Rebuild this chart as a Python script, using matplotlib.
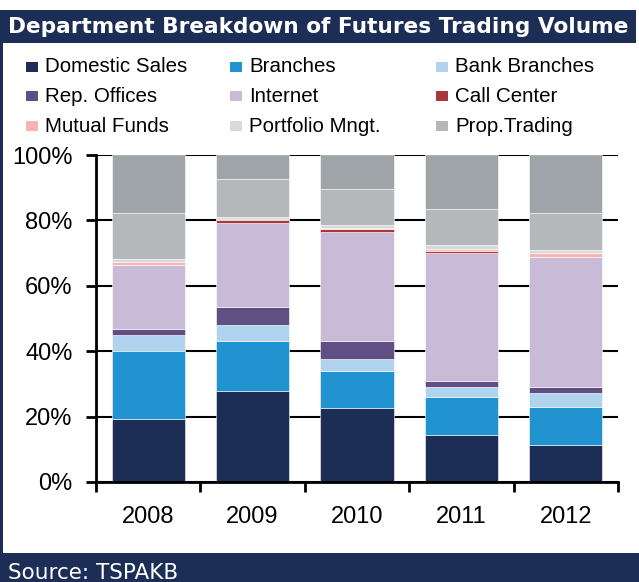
import matplotlib
matplotlib.use("Agg")
import matplotlib.pyplot as plt
from matplotlib.patches import Rectangle
import numpy as np

years = ["2008", "2009", "2010", "2011", "2012"]

# shares in %, bottom to top
domestic_sales = [19.4, 27.8, 22.5, 14.4, 11.4]
branches       = [20.7, 15.3, 11.4, 11.6, 11.6]
bank_branches  = [4.9, 4.9, 3.8, 3.2, 4.3]
rep_offices    = [1.9, 5.4, 5.4, 1.8, 1.9]
internet       = [19.4, 25.8, 33.5, 38.9, 39.5]
call_center    = [0.2, 0.8, 0.7, 0.6, 0.1]
mutual_funds   = [0.8, 0.5, 0.5, 0.7, 1.1]
portfolio_mngt = [1.0, 0.5, 0.9, 1.4, 0.9]
prop_trading   = [14.1, 11.7, 10.9, 10.9, 11.6]
other          = [17.6, 7.3, 10.4, 16.5, 17.6]

series = [
    ("Domestic Sales", domestic_sales, "#1c2d56"),
    ("Branches", branches, "#2093d0"),
    ("Bank Branches", bank_branches, "#b0d3ef"),
    ("Rep. Offices", rep_offices, "#5f4f82"),
    ("Internet", internet, "#c9bbd7"),
    ("Call Center", call_center, "#a8373c"),
    ("Mutual Funds", mutual_funds, "#f9b3b3"),
    ("Portfolio Mngt.", portfolio_mngt, "#d9d9d9"),
    ("Prop.Trading", prop_trading, "#b4b8bb"),
    (None, other, "#9ea4a7"),
]

navy = "#1c2d56"
W, H = 639, 582
fig = plt.figure(figsize=(W / 100, H / 100), dpi=100)

# frame: title band, left border, footer band
fig.add_artist(Rectangle((0, 1 - 43 / H), 636 / W, 33 / H, transform=fig.transFigure,
                         facecolor=navy, edgecolor="none"))
fig.add_artist(Rectangle((0, 0), 3 / W, 1 - 10 / H, transform=fig.transFigure,
                         facecolor=navy, edgecolor="none"))
fig.add_artist(Rectangle((0, 0), 1, 29 / H, transform=fig.transFigure,
                         facecolor=navy, edgecolor="none"))
fig.text(8 / W, 1 - 27 / H, "Department Breakdown of Futures Trading Volume",
         color="white", fontsize=15.6, fontweight="bold", family="DejaVu Sans",
         va="center", ha="left")
fig.text(8 / W, 3 / H, "Source: TSPAKB", color="white", fontsize=15.5,
         family="DejaVu Sans", va="baseline", ha="left")

ax = fig.add_axes([96 / W, 1 - 482 / H, 522 / W, 327 / H])
x = np.arange(len(years))
bottom = np.zeros(len(years))
for label, vals, color in series:
    ax.bar(x, vals, width=0.7, bottom=bottom, color=color, edgecolor="white",
           linewidth=0.4, label=label, zorder=2)
    bottom += np.array(vals)

ax.set_xlim(-0.5, 4.5)
ax.set_ylim(0, 100)
ax.set_yticks(np.arange(0, 101, 20))
ax.set_yticklabels([f"{v}%" for v in range(0, 101, 20)])
ax.set_xticks(x)
ax.set_xticklabels(years)
ax.set_xticks(np.arange(-0.5, 5, 1), minor=True)
ax.tick_params(axis="x", which="major", length=0, pad=17)
ax.tick_params(axis="x", which="minor", length=7, width=2, direction="out")
ax.tick_params(axis="y", length=7, width=2, direction="out", pad=10)
for lab in ax.get_xticklabels() + ax.get_yticklabels():
    lab.set_family("Liberation Sans")
    lab.set_fontsize(17)
ax.grid(axis="y", color="black", linewidth=1.5, zorder=1)
ax.set_axisbelow(True)
for s in ["top", "right"]:
    ax.spines[s].set_visible(False)
for s in ["left", "bottom"]:
    ax.spines[s].set_linewidth(2)

# legend laid out in three rows, row by row
col_x = [26, 230, 436]
row_y = [67, 96, 126]
for i, (label, vals, color) in enumerate(series[:9]):
    cx = col_x[i % 3]
    cy = row_y[i // 3]
    fig.add_artist(Rectangle((cx / W, 1 - (cy + 5) / H), 12 / W, 10 / H,
                             transform=fig.transFigure, facecolor=color,
                             edgecolor="none"))
    fig.text((cx + 19) / W, 1 - cy / H, label, fontsize=14.8,
             family="Liberation Sans", va="center", ha="left")

fig.savefig("out.png", dpi=100)
